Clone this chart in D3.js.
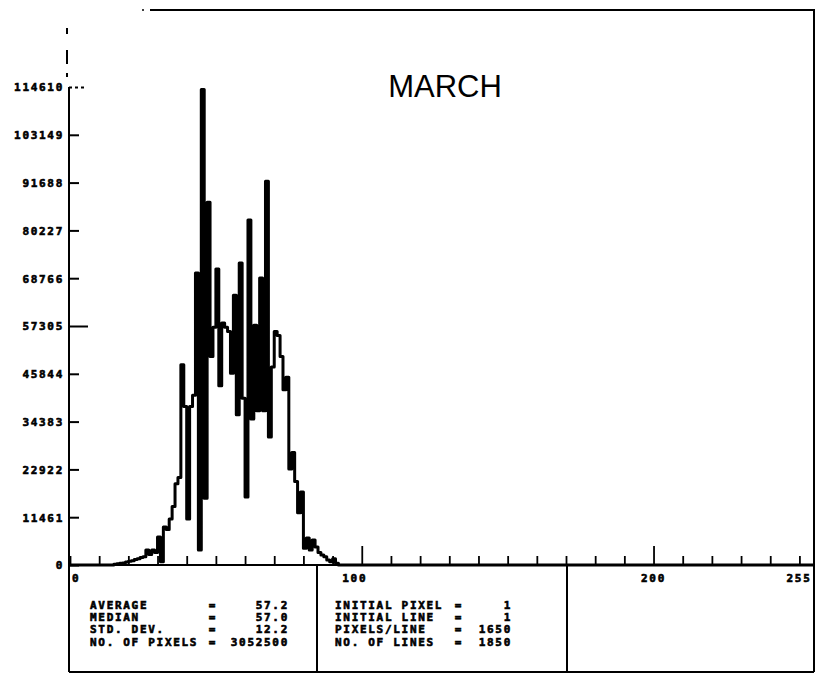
<!DOCTYPE html>
<html>
<head>
<meta charset="utf-8">
<script src="https://cdn.jsdelivr.net/npm/d3@7"></script>
<style>
  body { margin: 0; background: #fff; }
  .plot text { font-family: "DejaVu Sans Mono", monospace; font-weight: bold; font-size: 11px; letter-spacing: 1.7px; fill: #000; stroke: #000; stroke-width: 0.6px; }
  .plot text.title { font-family: "Liberation Sans", Arial, sans-serif; font-weight: normal; font-size: 31px; letter-spacing: 0; stroke: none; }
</style>
</head>
<body>
<div id="chart"></div>
<script>
// histogram of gray levels, first non-zero bin and its counts
const firstLevel = 15;
const counts = [200, 300, 400, 500, 700, 900, 1000, 1300, 1500, 1800,
  2000, 3600, 2500, 3600, 3000, 6700, 800, 9100, 8500, 11000,
  14000, 19500, 21000, 48000, 38000, 11000, 38000, 40700, 70000, 3600,
  114000, 16000, 87000, 50000, 57000, 71000, 43000, 58000, 57000, 56000,
  46000, 64700, 36000, 72400, 40000, 16300, 82700, 35000, 57500, 37000,
  68800, 37000, 92000, 30700, 47500, 56000, 55000, 50000, 42000, 45000,
  23000, 27000, 20000, 12500, 17500, 4000, 6500, 3600, 6000, 4300,
  3000, 2400, 2000, 1200, 800, 1500, 400];

const yTicks = [0, 11461, 22922, 34383, 45844, 57305, 68766, 80227, 91688, 103149, 114610];
const xLabels = [0, 100, 200, 255];
const xMajor = [100, 200];

const statsLeft = [["AVERAGE", "57.2"], ["MEDIAN", "57.0"], ["STD. DEV.", "12.2"], ["NO. OF PIXELS", "3052500"]];
const statsMid = [["INITIAL PIXEL", "1"], ["INITIAL LINE", "1"], ["PIXELS/LINE", "1650"], ["NO. OF LINES", "1850"]];

const W = 823, H = 681;
const frameLeft = 69, frameRight = 814, frameTop = 10, base = 565, frameBottom = 672;

let svg = d3.select("#chart").append("svg")
    .attr("width", W).attr("height", H)
    .attr("class", "plot");

const X = d3.scaleLinear().domain([0, 255]).range([70, frameRight]);
const Y = d3.scaleLinear().domain([0, 114610]).range([base, 87]);

// frame
svg.append("line").attr("x1", 150).attr("x2", frameRight + 1).attr("y1", frameTop).attr("y2", frameTop)
    .attr("stroke", "#000").attr("stroke-width", 2);
svg.append("circle").attr("cx", 143).attr("cy", frameTop).attr("r", 1).attr("fill", "#000");
svg.append("line").attr("x1", frameRight).attr("x2", frameRight).attr("y1", frameTop).attr("y2", frameBottom)
    .attr("stroke", "#000").attr("stroke-width", 2);
svg.append("line").attr("x1", frameLeft).attr("x2", frameLeft).attr("y1", 87).attr("y2", frameBottom)
    .attr("stroke", "#000").attr("stroke-width", 2);
svg.append("line").attr("x1", frameLeft - 2).attr("x2", frameLeft - 2).attr("y1", 28).attr("y2", 78)
    .attr("stroke", "#000").attr("stroke-width", 2).attr("stroke-dasharray", "6,16,14,9,4,20");

// stats box
svg.append("line").attr("x1", frameLeft).attr("x2", frameRight).attr("y1", frameBottom).attr("y2", frameBottom)
    .attr("stroke", "#000").attr("stroke-width", 2);
[317, 567].forEach(x => {
  svg.append("line").attr("x1", x).attr("x2", x).attr("y1", base).attr("y2", frameBottom)
      .attr("stroke", "#000").attr("stroke-width", 2);
});

// y axis, ticks pointing right
let yAxis = svg.append("g")
    .attr("transform", "translate(" + frameLeft + ",0)")
    .call(d3.axisLeft(Y).tickValues(yTicks).tickSize(-10).tickPadding(5).tickFormat(d => String(d)));
yAxis.select(".domain").remove();
yAxis.selectAll(".tick line").attr("stroke-width", 2)
    .attr("stroke-dasharray", d => d === 114610 ? "3,3" : null)
    .attr("x2", d => d === 57305 ? 19 : (d === 114610 ? 16 : 10));
yAxis.selectAll(".tick text").attr("font-family", null).attr("font-size", null)
    .attr("dy", "0.36em");

// x axis, ticks pointing up
let xAxis = svg.append("g")
    .attr("transform", "translate(0," + base + ")")
    .call(d3.axisBottom(X).tickValues(d3.range(0, 251, 10)).tickSize(-9).tickFormat(""));
xAxis.select(".domain").remove();
xAxis.selectAll(".tick line").attr("stroke-width", 1.8)
    .attr("y2", d => xMajor.includes(d) ? -19 : -9);
svg.append("line").attr("x1", frameLeft).attr("x2", frameRight).attr("y1", base).attr("y2", base)
    .attr("stroke", "#000").attr("stroke-width", 2);

// x labels sit next to their ticks
const labelShift = {0: 2, 100: -7, 200: 0, 255: -15};
svg.selectAll(".xlab").data(xLabels).enter().append("text")
    .attr("class", "xlab")
    .attr("x", d => X(d) + labelShift[d])
    .attr("y", base + 17)
    .attr("text-anchor", d => d === 0 ? "start" : "middle")
    .text(d => d);

// histogram as a step line
const data = d3.range(256).map(v => ({v: v, c: counts[v - firstLevel] || 0}));
const line = d3.line()
    .x(d => X(d.v))
    .y(d => Y(d.c))
    .curve(d3.curveStepAfter);
svg.append("path").datum(data)
    .attr("d", line)
    .attr("fill", "none")
    .attr("stroke", "#000")
    .attr("stroke-width", 3)
    .attr("stroke-linejoin", "round");

// title
svg.append("text").attr("class", "title")
    .attr("x", 445).attr("y", 97)
    .attr("text-anchor", "middle")
    .text("MARCH");

// stats text
const rowY = [609, 621, 633, 646];
function statBlock(rows, xLab, xEq, xVal) {
  rows.forEach((r, i) => {
    svg.append("text").attr("x", xLab).attr("y", rowY[i]).text(r[0]);
    svg.append("text").attr("x", xEq).attr("y", rowY[i]).attr("text-anchor", "middle").text("=");
    svg.append("text").attr("x", xVal).attr("y", rowY[i]).attr("text-anchor", "end").text(r[1]);
  });
}
statBlock(statsLeft, 90, 213, 289);
statBlock(statsMid, 335, 459, 512);
</script>
</body>
</html>
